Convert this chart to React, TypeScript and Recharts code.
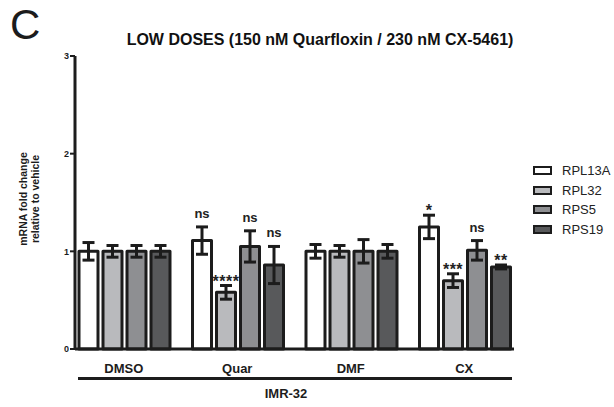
import React from "react";
import {
  ComposedChart,
  Bar,
  XAxis,
  YAxis,
  ErrorBar,
  LabelList,
  Legend,
} from "recharts";

const categories = ["DMSO", "Quar", "DMF", "CX"];
const seriesNames = ["RPL13A", "RPL32", "RPS5", "RPS19"];

const rpl13a = [1.0, 1.11, 1.0, 1.25];
const rpl13aErr = [0.09, 0.14, 0.07, 0.12];
const rpl32 = [1.0, 0.58, 1.0, 0.7];
const rpl32Err = [0.06, 0.07, 0.06, 0.07];
const rps5 = [1.0, 1.05, 1.0, 1.01];
const rps5Err = [0.06, 0.16, 0.12, 0.1];
const rps19 = [1.0, 0.86, 1.0, 0.84];
const rps19Err = [0.06, 0.19, 0.07, 0.02];

const rpl13aSig = ["", "ns", "", "*"];
const rpl32Sig = ["", "****", "", "***"];
const rps5Sig = ["", "ns", "", "ns"];
const rps19Sig = ["", "ns", "", "**"];

const yTicks = [0, 1, 2, 3];

const title = "LOW DOSES (150 nM Quarfloxin / 230 nM CX-5461)";
const panelLetter = "C";
const yLabelLines = ["mRNA fold change", "relative to vehicle"];
const groupLabel = "IMR-32";

const values = [rpl13a, rpl32, rps5, rps19];
const errors = [rpl13aErr, rpl32Err, rps5Err, rps19Err];
const sigs = [rpl13aSig, rpl32Sig, rps5Sig, rps19Sig];
const fills = ["#ffffff", "#b9babd", "#8e8f92", "#58595b"];
const STROKE = "#1c1c1c";
const FONT = "'Liberation Sans', Arial, sans-serif";

const data = categories.map((c, i) => {
  const row: any = { name: c };
  seriesNames.forEach((s, k) => {
    row[s] = values[k][i];
    row[s + "_err"] = errors[k][i];
    row[s + "_sig"] = sigs[k][i];
  });
  return row;
});

const makeSigLabel = (k: number) => (props: any) => {
  const { x, y, width, height, index } = props;
  const label = sigs[k][index];
  if (!label) return null;
  const v = values[k][index];
  const e = errors[k][index];
  const pxPerUnit = height / v;
  const errTop = y - e * pxPerUnit;
  const isStar = label.indexOf("*") >= 0;
  return (
    <text
      x={x + width / 2}
      y={isStar ? errTop + 1 : errTop - 9}
      textAnchor="middle"
      fontFamily={FONT}
      fontSize={isStar ? 16 : 13}
      fontWeight={700}
      letterSpacing={isStar ? 0.5 : 0}
      fill="#222"
    >
      {label}
    </text>
  );
};

const renderLegend = () => {
  return (
    <div style={{ fontFamily: FONT }}>
      {seriesNames.map((name, i) => (
        <div
          key={name}
          style={{
            display: "flex",
            alignItems: "center",
            height: 19.5,
          }}
        >
          <div
            style={{
              width: 15,
              height: 5,
              border: `2.5px solid ${STROKE}`,
              background: fills[i],
              marginRight: 10,
            }}
          />
          <span style={{ fontSize: 13, color: "#222" }}>{name}</span>
        </div>
      ))}
    </div>
  );
};

export default function App() {
  return (
    <div
      style={{
        position: "absolute",
        left: 0,
        top: 0,
        width: 614,
        height: 407,
        background: "#fff",
      }}
    >
      <ComposedChart
        width={614}
        height={407}
        data={data}
        margin={{ top: 56, right: 100, left: 0, bottom: 28 }}
        barCategoryGap={12}
        barGap={5}
      >
        <XAxis
          dataKey="name"
          height={30}
          padding={{ left: -8, right: -7 }}
          axisLine={{ stroke: STROKE, strokeWidth: 3 }}
          tickLine={false}
          tick={{
            fontFamily: FONT,
            fontSize: 13,
            fontWeight: 700,
            fill: "#1c1c1c",
          }}
          tickMargin={9}
        />
        <YAxis
          width={75}
          domain={[0, 3]}
          ticks={yTicks}
          interval={0}
          axisLine={{ stroke: STROKE, strokeWidth: 3 }}
          tickLine={{ stroke: STROKE, strokeWidth: 2 }}
          tickSize={5}
          tickMargin={1}
          tick={{
            fontFamily: FONT,
            fontSize: 9,
            fontWeight: 700,
            fill: "#1c1c1c",
          }}
        />
        <Legend
          layout="horizontal"
          verticalAlign="middle"
          align="center"
          content={renderLegend}
          wrapperStyle={{
            position: "absolute",
            left: 533,
            top: 161,
            width: 80,
            height: 80,
          }}
        />
        {seriesNames.map((s, k) => (
          <Bar
            key={s}
            dataKey={s}
            name={s}
            fill={fills[k]}
            stroke={STROKE}
            strokeWidth={3}
            strokeLinejoin="round"
            isAnimationActive={false}
          >
            <ErrorBar
              dataKey={s + "_err"}
              width={6}
              stroke={STROKE}
              strokeWidth={3}
              direction="y"
            />
            <LabelList dataKey={s + "_sig"} content={makeSigLabel(k)} />
          </Bar>
        ))}
      </ComposedChart>
      <svg
        width={614}
        height={407}
        style={{ position: "absolute", left: 0, top: 0, pointerEvents: "none" }}
      >
        <text x={10} y={39} fontFamily={FONT} fontSize={42} fill="#1c1c1c">
          {panelLetter}
        </text>
        <text
          x={320}
          y={45}
          textAnchor="middle"
          fontFamily={FONT}
          fontSize={16}
          fontWeight={700}
          fill="#111"
        >
          {title}
        </text>
        <g transform="translate(29,199) rotate(-90)">
          <text
            x={0}
            y={-2}
            textAnchor="middle"
            fontFamily={FONT}
            fontSize={10.5}
            fontWeight={700}
            fill="#1c1c1c"
          >
            {yLabelLines[0]}
          </text>
          <text
            x={0}
            y={10}
            textAnchor="middle"
            fontFamily={FONT}
            fontSize={10.5}
            fontWeight={700}
            fill="#1c1c1c"
          >
            {yLabelLines[1]}
          </text>
        </g>
        <line x1={78} y1={378.5} x2={512} y2={378.5} stroke={STROKE} strokeWidth={3} />
        <text
          x={286}
          y={397.5}
          textAnchor="middle"
          fontFamily={FONT}
          fontSize={13}
          fontWeight={700}
          fill="#1c1c1c"
        >
          {groupLabel}
        </text>
      </svg>
    </div>
  );
}
